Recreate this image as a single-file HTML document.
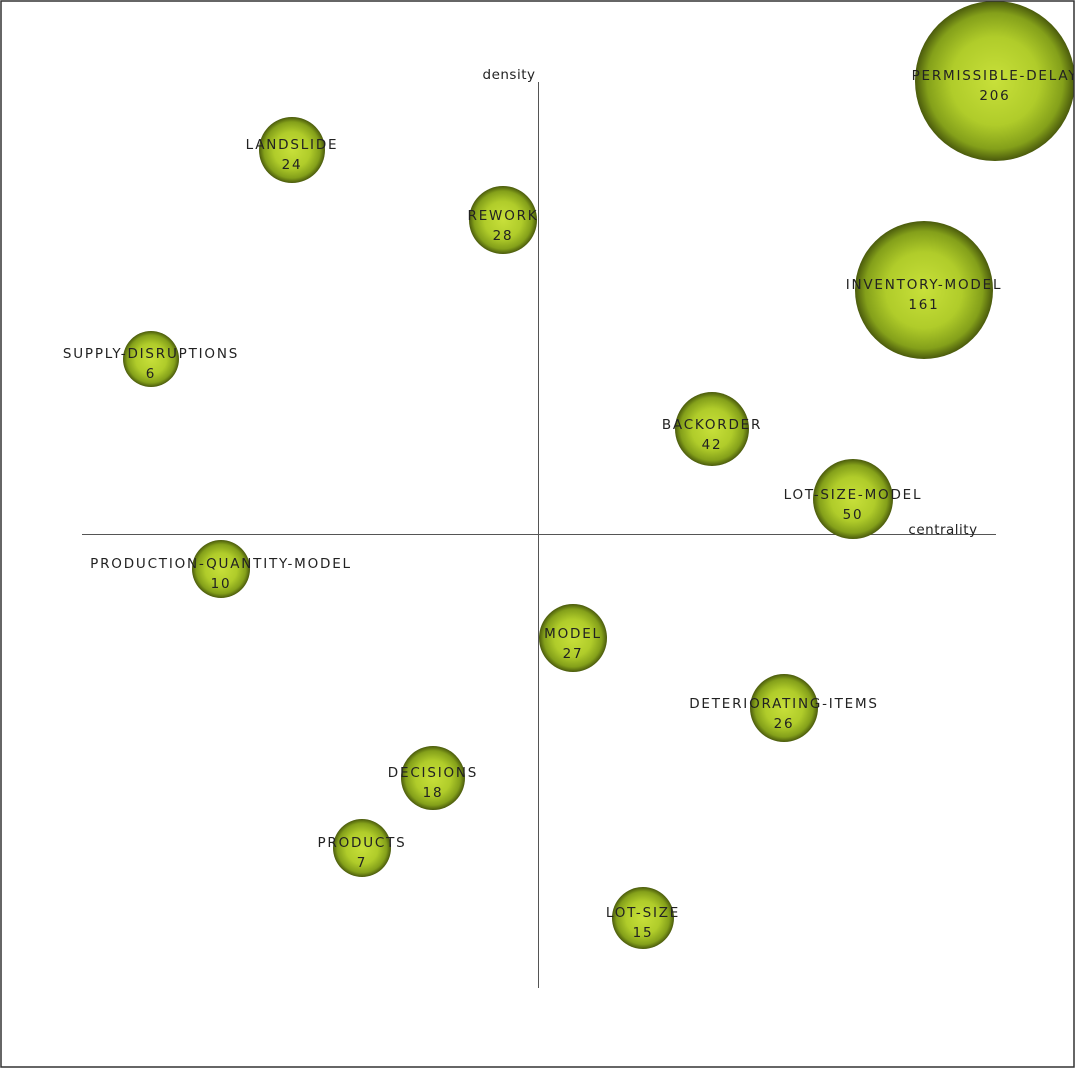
<!DOCTYPE html>
<html><head><meta charset="utf-8"><style>
html,body{margin:0;padding:0;background:#fff;}
svg{display:block;}
text{font-family:"DejaVu Sans","Liberation Sans",sans-serif;font-size:13.5px;letter-spacing:1.8px;fill:#222;text-anchor:middle;}
</style></head><body>
<svg width="1076" height="1069" viewBox="0 0 1076 1069">
<defs>
<radialGradient id="g" cx="50%" cy="50%" r="50%">
<stop offset="0" stop-color="#c8e03a"/>
<stop offset="0.55" stop-color="#b0cc2a"/>
<stop offset="0.85" stop-color="#84a01a"/>
<stop offset="1" stop-color="#4a5a0c"/>
</radialGradient>
<clipPath id="c"><rect x="1" y="1" width="1073" height="1066"/></clipPath>
</defs>
<g clip-path="url(#c)">
<line x1="538.5" y1="82" x2="538.5" y2="988" stroke="#555" stroke-width="1"/>
<line x1="82" y1="534.5" x2="996" y2="534.5" stroke="#555" stroke-width="1"/>
<text x="509" y="79" style="letter-spacing:0.5px">density</text>
<text x="943" y="534" style="letter-spacing:0.5px">centrality</text>
<g>
<circle cx="995" cy="81" r="80" fill="url(#g)"/><text x="995" y="80">PERMISSIBLE-DELAY</text><text x="995" y="100">206</text>
<circle cx="924" cy="290" r="69" fill="url(#g)"/><text x="924" y="289">INVENTORY-MODEL</text><text x="924" y="309">161</text>
<circle cx="292" cy="150" r="33" fill="url(#g)"/><text x="292" y="149">LANDSLIDE</text><text x="292" y="169">24</text>
<circle cx="503" cy="220" r="34" fill="url(#g)"/><text x="503" y="220">REWORK</text><text x="503" y="240">28</text>
<circle cx="151" cy="359" r="28" fill="url(#g)"/><text x="151" y="358">SUPPLY-DISRUPTIONS</text><text x="151" y="378">6</text>
<circle cx="712" cy="429" r="37" fill="url(#g)"/><text x="712" y="429">BACKORDER</text><text x="712" y="449">42</text>
<circle cx="853" cy="499" r="40" fill="url(#g)"/><text x="853" y="499">LOT-SIZE-MODEL</text><text x="853" y="519">50</text>
<circle cx="221" cy="569" r="29" fill="url(#g)"/><text x="221" y="568">PRODUCTION-QUANTITY-MODEL</text><text x="221" y="588">10</text>
<circle cx="573" cy="638" r="34" fill="url(#g)"/><text x="573" y="638">MODEL</text><text x="573" y="658">27</text>
<circle cx="784" cy="708" r="34" fill="url(#g)"/><text x="784" y="708">DETERIORATING-ITEMS</text><text x="784" y="728">26</text>
<circle cx="433" cy="778" r="32" fill="url(#g)"/><text x="433" y="777">DECISIONS</text><text x="433" y="797">18</text>
<circle cx="362" cy="848" r="29" fill="url(#g)"/><text x="362" y="847">PRODUCTS</text><text x="362" y="867">7</text>
<circle cx="643" cy="918" r="31" fill="url(#g)"/><text x="643" y="917">LOT-SIZE</text><text x="643" y="937">15</text>
</g>
</g>
<rect x="1" y="1" width="1073" height="1066" fill="none" stroke="#333" stroke-width="1.5"/>
</svg>
</body></html>
